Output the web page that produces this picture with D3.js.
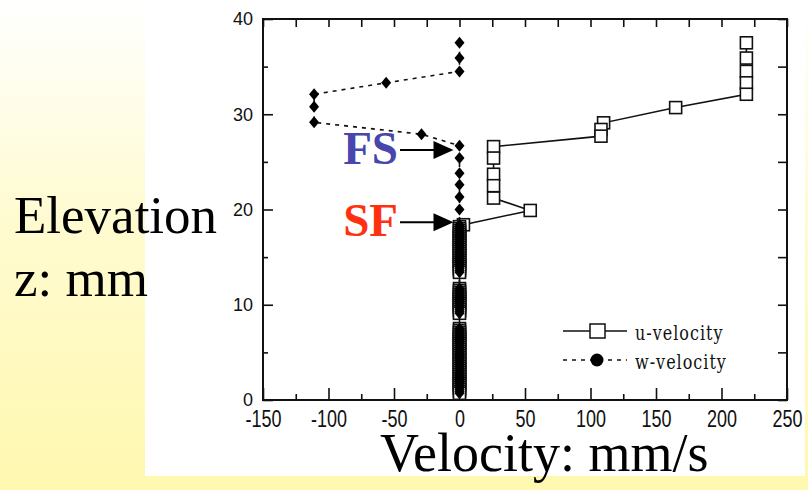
<!doctype html>
<html>
  <head>
    <meta charset="utf-8">
    <title>Velocity profile</title>
    <script src="https://cdnjs.cloudflare.com/ajax/libs/d3/7.8.5/d3.min.js"></script>
    <style>
      body { margin: 0; background: #fff; }
      svg { display: block; background: linear-gradient(to bottom, #ffffff 0%, #fffbd0 45%, #fff8b0 100%); }
    </style>
  </head>
  <body>
    <div id="chart"></div>

    <script>
      // data (z in mm, velocities in mm/s)
      // upper part of the profile
      const uZ = [37.5, 35.9, 34.5, 33.3, 32.1, 30.7, 29.1, 28.4, 27.7, 26.6, 25.4, 23.7, 22.5, 21.2, 19.9];
      const uVel = [219, 219, 219, 219, 219, 165, 110, 108, 108, 26, 26, 26, 26, 26, 54];
      const wZ = [37.5, 35.9, 34.5, 33.3, 32.1, 30.8, 29.15, 27.9, 26.7, 25.4, 23.8, 22.6, 21.3, 20.0];
      const wVel = [0, 0, 0, -56, -111, -111, -111, -29, 0, 0, 0, 0, 0, 0];

      // densely sampled layer near the bed (both components ~0), three runs
      const bedZ = [18.4, 18.2, 18.0, 17.8, 17.6, 17.4, 17.2, 17.0, 16.8, 16.6, 16.4, 16.2, 16.0,
                    15.8, 15.6, 15.4, 15.2, 15.0, 14.8, 14.6, 14.4, 14.2, 14.0, 13.8, 13.6, 13.4,
                    11.7, 11.5, 11.3, 11.1, 10.9, 10.7, 10.5, 10.3, 10.1, 9.9, 9.7, 9.5, 9.3, 9.1,
                    7.5, 7.3, 7.1, 6.9, 6.7, 6.5, 6.3, 6.1, 5.9, 5.7, 5.5, 5.3, 5.1, 4.9, 4.7, 4.5, 4.3, 4.1,
                    3.9, 3.7, 3.5, 3.3, 3.1, 2.9, 2.7, 2.5, 2.3, 2.1, 1.9, 1.7, 1.5, 1.3, 1.1, 0.9, 0.7];
      const bedU = [3, 0, 0, 0, 0, 0, 0, 0, 0, 0, 0, 0, 0,
                    0, 0, 0, 0, 0, 0, 0, 0, 0, 0, 0, 0, 0,
                    0, 0, 0, 0, 0, 0, 0, 0, 0, 0, 0, 0, 0, 0,
                    0, 0, 0, 0, 0, 0, 0, 0, 0, 0, 0, 0, 0, 0, 0, 0, 0, 0,
                    0, 0, 0, 0, 0, 0, 0, 0, 0, 0, 0, 0, 0, 0, 0, 0, 0];
      const bedW = [0, 0, 0, 0, 0, 0, 0, 0, 0, 0, 0, 0, 0,
                    0, 0, 0, 0, 0, 0, 0, 0, 0, 0, 0, 0, 0,
                    0, 0, 0, 0, 0, 0, 0, 0, 0, 0, 0, 0, 0, 0,
                    0, 0, 0, 0, 0, 0, 0, 0, 0, 0, 0, 0, 0, 0, 0, 0, 0, 0,
                    0, 0, 0, 0, 0, 0, 0, 0, 0, 0, 0, 0, 0, 0, 0, 0, 0];

      const xMajor = [-150, -100, -50, 0, 50, 100, 150, 200, 250];
      const xMinor = [-125, -75, -25, 25, 75, 125, 175, 225];
      const yMajor = [0, 10, 20, 30, 40];
      const yMinor = [5, 15, 25, 35];

      const seriesNames = ['u-velocity', 'w-velocity'];
      const notes = ['FS', 'SF'];
      const noteZ = [26.25, 18.65];
      const noteColors = ['#4646ad', '#ff3010'];

      const W = 808, H = 490;
      const x = d3.scaleLinear().domain([-150, 250]).range([263, 787]);
      const y = d3.scaleLinear().domain([0, 40]).range([400, 19]);

      const svg = d3.select('#chart').append('svg')
        .attr('width', W)
        .attr('height', H);

      // white panel behind the chart
      svg.append('rect')
        .attr('x', 145).attr('y', 0)
        .attr('width', 660).attr('height', 476)
        .attr('fill', '#fff');

      const tickFont = 'Liberation Sans, Arial, sans-serif';

      // ticks point inward
      function ticks(axis, tf) {
        const g = svg.append('g').attr('transform', tf).call(axis);
        g.select('.domain').remove();
        g.selectAll('line').attr('stroke', '#111').attr('stroke-width', 1.6);
        return g;
      }
      function bare(g) {
        g.selectAll('text').remove();
      }

      const xb = ticks(d3.axisBottom(x).tickValues(xMajor).tickSize(-12).tickSizeOuter(0).tickFormat(d => String(d)),
        'translate(0,400)');
      xb.selectAll('text')
        .attr('y', 0).attr('dy', 0)
        .attr('transform', 'translate(0,27) scale(1,1.3)')
        .style('font-family', tickFont)
        .style('font-size', '18px')
        .attr('fill', '#111');
      bare(ticks(d3.axisBottom(x).tickValues(xMinor).tickSize(-6), 'translate(0,400)'));
      bare(ticks(d3.axisTop(x).tickValues(xMajor.concat(xMinor)).tickSize(-8), 'translate(0,19)'));

      const yl = ticks(d3.axisLeft(y).tickValues(yMajor).tickSize(-10).tickPadding(10).tickSizeOuter(0), 'translate(263,0)');
      yl.selectAll('text')
        .style('font-family', tickFont)
        .style('font-size', '18px')
        .attr('fill', '#111');
      bare(ticks(d3.axisLeft(y).tickValues(yMinor).tickSize(-5), 'translate(263,0)'));
      bare(ticks(d3.axisRight(y).tickValues(yMajor.concat(yMinor)).tickSize(-9), 'translate(787,0)'));

      // frame
      svg.append('rect')
        .attr('x', x(-150)).attr('y', y(40))
        .attr('width', x(250) - x(-150)).attr('height', y(0) - y(40))
        .attr('fill', 'none')
        .attr('stroke', '#111')
        .attr('stroke-width', 2);

      const uData = uZ.concat(bedZ).map((z, i) => ({ z: z, v: uVel.concat(bedU)[i] }));
      const wData = wZ.concat(bedZ).map((z, i) => ({ z: z, v: wVel.concat(bedW)[i] }));
      const line = d3.line().x(d => x(d.v)).y(d => y(d.z));

      // u-velocity: solid line, open squares
      svg.append('path')
        .datum(uData)
        .attr('d', line)
        .attr('fill', 'none')
        .attr('stroke', '#111')
        .attr('stroke-width', 1.6);
      svg.append('g').selectAll('rect')
        .data(uData)
        .join('rect')
        .attr('x', d => x(d.v) - 6)
        .attr('y', d => y(d.z) - 6)
        .attr('width', 12).attr('height', 12)
        .attr('fill', '#fff')
        .attr('stroke', '#111')
        .attr('stroke-width', 1.6);

      // w-velocity: dotted line, filled diamonds
      svg.append('path')
        .datum(wData)
        .attr('d', line)
        .attr('fill', 'none')
        .attr('stroke', '#111')
        .attr('stroke-width', 1.6)
        .attr('stroke-dasharray', '4,5');
      svg.append('g').selectAll('path')
        .data(wData)
        .join('path')
        .attr('transform', d => `translate(${x(d.v)},${y(d.z)})`)
        .attr('d', 'M0,-6L5,0L0,6L-5,0Z')
        .attr('fill', '#000');

      // legend
      const leg = svg.append('g');
      leg.append('line').attr('x1', 563).attr('x2', 627).attr('y1', 331).attr('y2', 331)
        .attr('stroke', '#111').attr('stroke-width', 1.6);
      leg.append('rect').attr('x', 590).attr('y', 324).attr('width', 15).attr('height', 14)
        .attr('fill', '#fff').attr('stroke', '#111').attr('stroke-width', 1.5);
      leg.append('line').attr('x1', 563).attr('x2', 627).attr('y1', 360).attr('y2', 360)
        .attr('stroke', '#111').attr('stroke-width', 1.6).attr('stroke-dasharray', '4,5');
      leg.append('circle').attr('cx', 597).attr('cy', 360).attr('r', 6.5).attr('fill', '#000');
      leg.selectAll('text')
        .data(seriesNames)
        .join('text')
        .attr('transform', (d, i) => `translate(635,${340 + i * 29}) scale(1,1.25)`)
        .text(d => d)
        .style('font-family', 'DejaVu Serif, serif')
        .style('font-size', '16px')
        .style('letter-spacing', '1px')
        .attr('fill', '#111');

      // FS / SF annotations with arrows
      const ann = svg.append('g').selectAll('g')
        .data(notes)
        .join('g')
        .attr('transform', (d, i) => `translate(0,${y(noteZ[i])})`);
      ann.append('text')
        .attr('x', 398).attr('y', 14)
        .attr('text-anchor', 'end')
        .text(d => d)
        .style('font-family', 'Liberation Serif, Times New Roman, serif')
        .style('font-weight', 'bold')
        .style('font-size', '47px')
        .attr('fill', (d, i) => noteColors[i]);
      ann.append('line')
        .attr('x1', 400).attr('x2', x(0) - 18)
        .attr('y1', 0).attr('y2', 0)
        .attr('stroke', '#000').attr('stroke-width', 2);
      ann.append('path')
        .attr('d', `M${x(0) - 26},-9L${x(0) - 6},0L${x(0) - 26},9Z`)
        .attr('fill', '#000');

      // axis titles
      const titleFont = 'Liberation Serif, Times New Roman, serif';
      svg.append('text').attr('x', 14).attr('y', 233).text('Elevation')
        .style('font-family', titleFont).style('font-size', '53px').attr('fill', '#000');
      svg.append('text').attr('x', 14).attr('y', 296).text('z: mm')
        .style('font-family', titleFont).style('font-size', '53px').attr('fill', '#000');
      svg.append('text').attr('x', 380).attr('y', 471).text('Velocity: mm/s')
        .style('font-family', titleFont).style('font-size', '54px').attr('fill', '#000');
    </script>
  </body>
</html>
